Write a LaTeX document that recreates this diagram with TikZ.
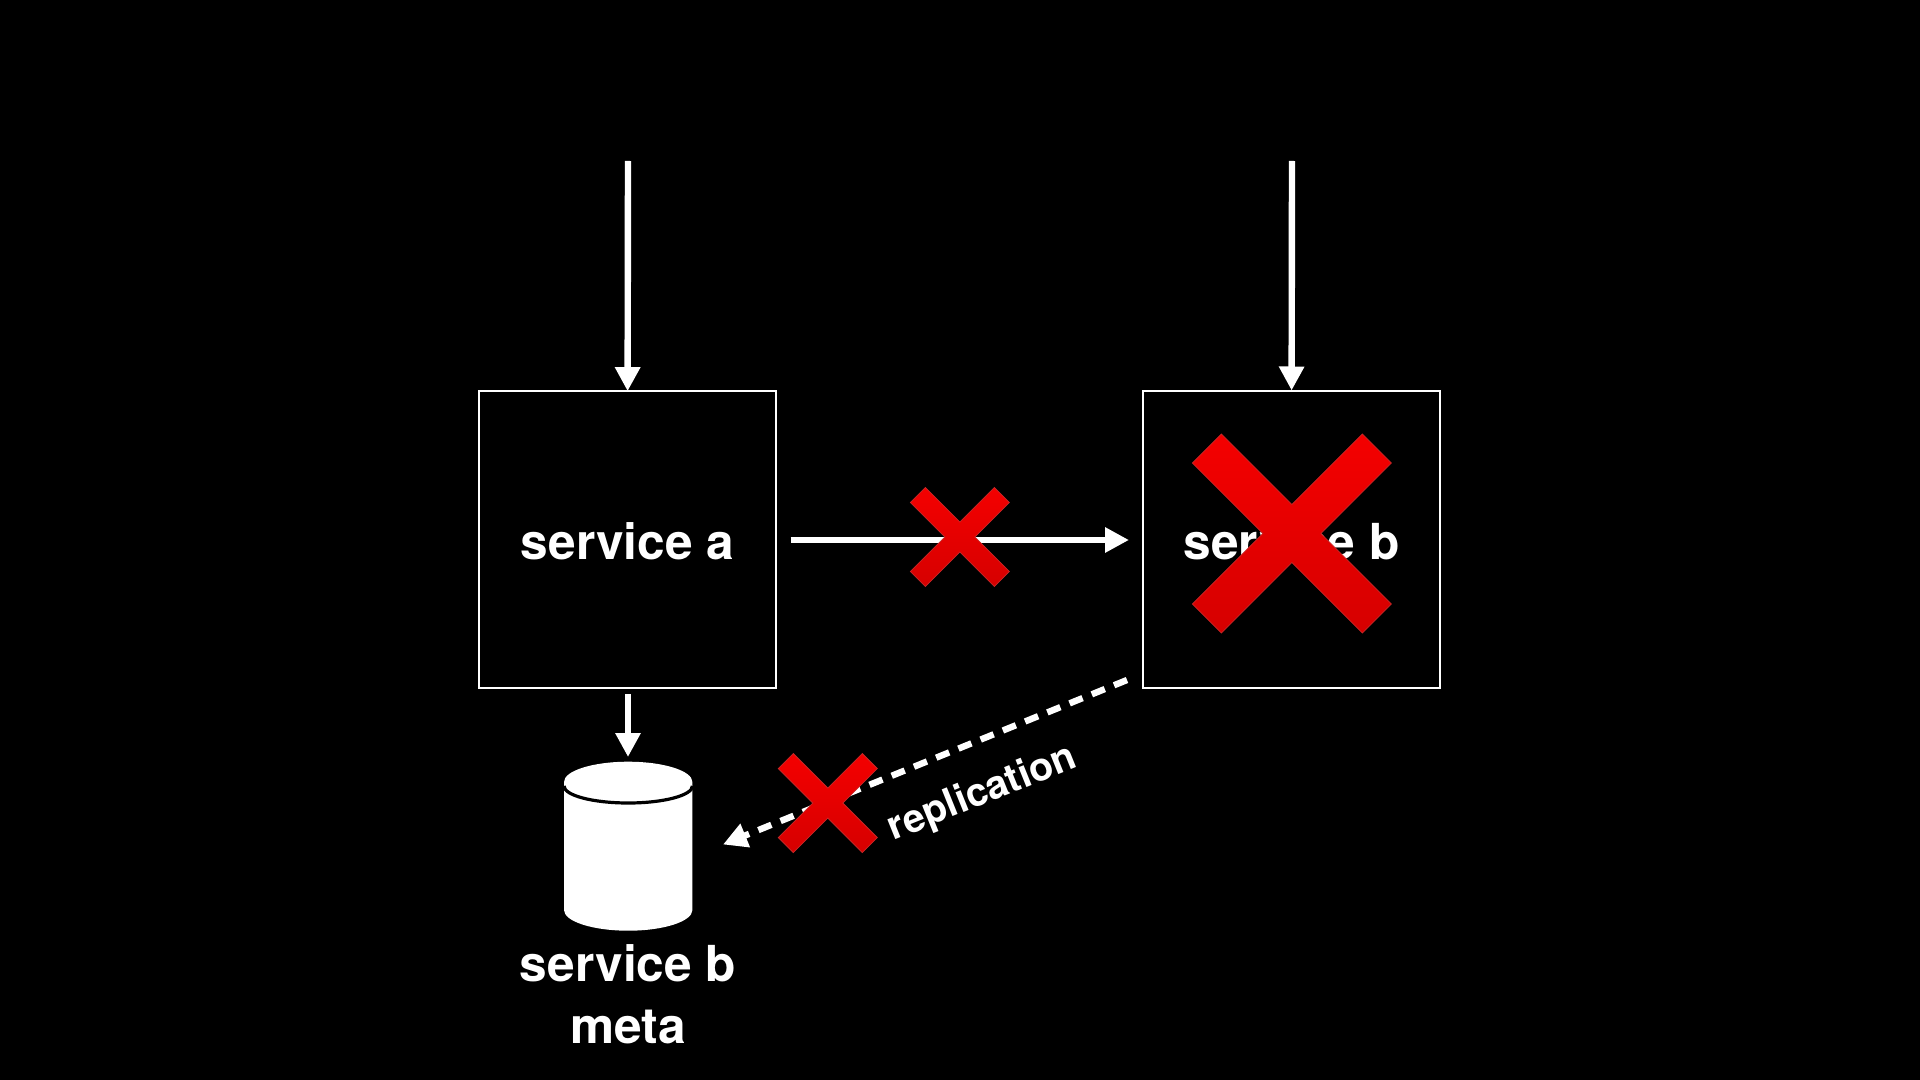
\documentclass[tikz,border=0pt]{standalone}
\usepackage{fontspec}
\setmainfont{TeX Gyre Heros}
\usetikzlibrary{arrows.meta}
\definecolor{crosstop}{RGB}{244,0,0}
\definecolor{crossbot}{RGB}{214,0,0}
\definecolor{crossedge}{RGB}{200,40,40}
\tikzset{
  box/.style={draw=white,line width=1pt,fill=black,minimum width=148.5pt,minimum height=148.5pt,inner sep=0pt,outer sep=0pt,text=white,text depth=0pt,font=\fontsize{24.8}{29}\selectfont\bfseries},
  lbl/.style={text=white,inner sep=0pt,align=center,font=\fontsize{24.8}{30.8}\selectfont\bfseries},
  flow/.style={draw=white,line width=3.2pt,-{Triangle[length=12pt,width=12pt]}},
  dashflow/.style={flow,dash pattern=on 7pt off 5pt},
  crossfill/.style={top color=crosstop,bottom color=crossbot,draw=crossedge,line width=0.4pt}
}
\newcommand{\redcross}[4]{%
  \path[crossfill] (#1,#2)
    ++(0,-#4) -- ++({#3-#4},{-(#3-#4)}) -- ++(#4,#4) -- ++({-(#3-#4)},{#3-#4})
    -- ++({#3-#4},{#3-#4}) -- ++(-#4,#4) -- ++({-(#3-#4)},{-(#3-#4)})
    -- ++({-(#3-#4)},{#3-#4}) -- ++(-#4,-#4) -- ++({#3-#4},{-(#3-#4)})
    -- ++({-(#3-#4)},{-(#3-#4)}) -- ++(#4,-#4) -- cycle;}
\begin{document}
\begin{tikzpicture}[x=0.5pt,y=-0.5pt]
\useasboundingbox (0,0) rectangle (1920,1080);
\fill[black] (0,0) rectangle (1920,1080);
\node[box,text height=19.3pt] (a) at (627.6,539.7) {service a};
\node[box,text height=20pt] (b) at (1291.6,539) {service b};
\coordinate (ain) at (628,161);
\coordinate (bin) at (1292,161);
\coordinate (aout) at (790.7,540);
\coordinate (bin2) at (1129,540);
\coordinate (adown) at (628,694);
\coordinate (dbtop) at (628,757);
\coordinate (bout) at (1127,680);
\coordinate (dbside) at (723,844.5);
\draw[flow] (ain) -- (a.north);
\draw[flow] (bin) -- (b.north);
\draw[flow] (aout) -- (bin2);
\draw[flow] (adown) -- (dbtop);
\draw[dashflow] (bout) -- (dbside);
% database
\fill[white] (564,782) arc[start angle=180,end angle=360,x radius=64.2,y radius=20.3] -- (692.4,910)
  arc[start angle=0,end angle=180,x radius=64.2,y radius=20.7] -- cycle;
\draw[black,line width=1.6pt] (564,786) arc[start angle=180,end angle=360,x radius=64.2,y radius=-17];
\node[lbl] (meta) at (628,994) {service b\\meta};
\node[text=white,inner sep=0pt,rotate=22,font=\fontsize{19.7}{24}\selectfont\bfseries] (repl) at (982.5,794) {replication};
\redcross{959.9}{537}{49.5}{15}
\redcross{827.8}{803}{49.5}{15}
\redcross{1291.8}{533.5}{99.5}{29}
\end{tikzpicture}
\end{document}
